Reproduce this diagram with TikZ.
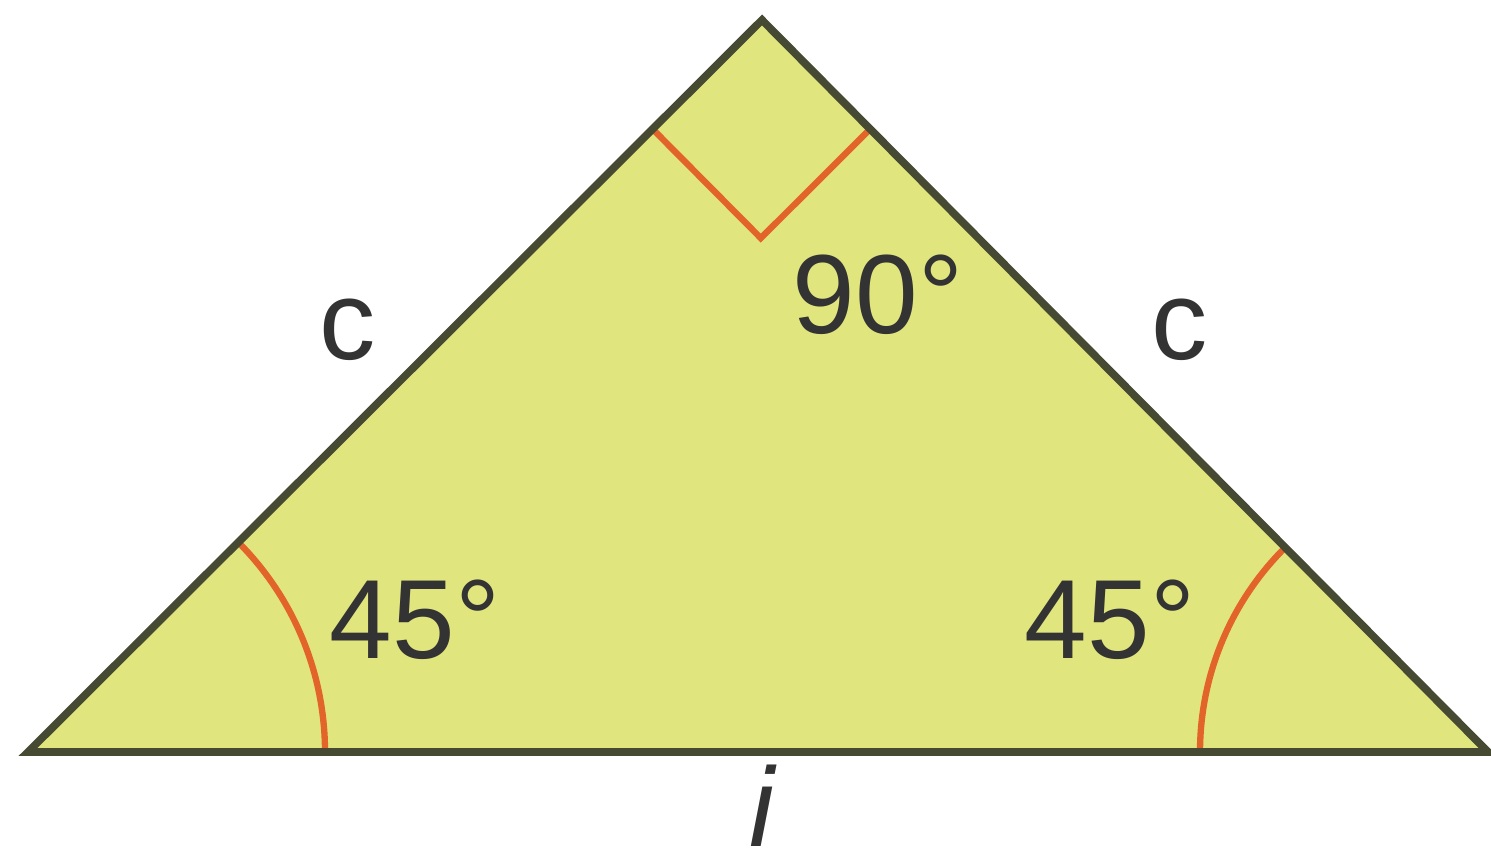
\documentclass[tikz,border=0pt]{standalone}
\usepackage{fontspec}
\setmainfont{Liberation Sans}
\usetikzlibrary{calc}
\definecolor{tri}{HTML}{E0E67D}
\definecolor{triedge}{HTML}{474A32}
\definecolor{angle}{HTML}{E2642A}
\definecolor{ink}{HTML}{333333}

\begin{document}
\begin{tikzpicture}[x=0.01cm,y=0.01cm,font=\fontsize{32}{38}\selectfont,
  side/.style={draw=triedge,line width=2.2pt},
  anglemark/.style={draw=angle,line width=1.8pt},
  lbl/.style={text=ink,inner sep=0pt}]
  \useasboundingbox (0,0) rectangle (1491,865);

  % ===== vertices =====
  \coordinate (L) at (28,113);
  \coordinate (R) at (1488,113);
  \coordinate (T) at (762,845);

  % ===== triangle =====
  \fill[tri] (L) -- (R) -- (T) -- cycle;

  % ===== angle marks =====
  \draw[anglemark] (L) ++(0:297) arc[start angle=0,end angle=45,radius=297];
  \draw[anglemark] (R) ++(180:288) arc[start angle=180,end angle=135,radius=288];
  \coordinate (ra1) at ($(T)!0.149!(L)$);
  \coordinate (ra2) at ($(T)!0.149!(R)$);
  \coordinate (racorner) at ($(ra1)+(ra2)-(T)$);
  \draw[anglemark] (ra1) -- (racorner) -- (ra2);

  \draw[side] (L) -- (R) -- (T) -- cycle;

  % ===== labels =====
  \node[lbl] (top) at (878,570) {90°};
  \node[lbl] (leftang) at (415,245) {45°};
  \node[lbl] (rightang) at (1110,245) {45°};
  \node[lbl] (lside) at (348,535) {c};
  \node[lbl] (rside) at (1180,535) {c};
  \node[lbl,anchor=base] (base) at (762,18) {\itshape i};
\end{tikzpicture}
\end{document}
